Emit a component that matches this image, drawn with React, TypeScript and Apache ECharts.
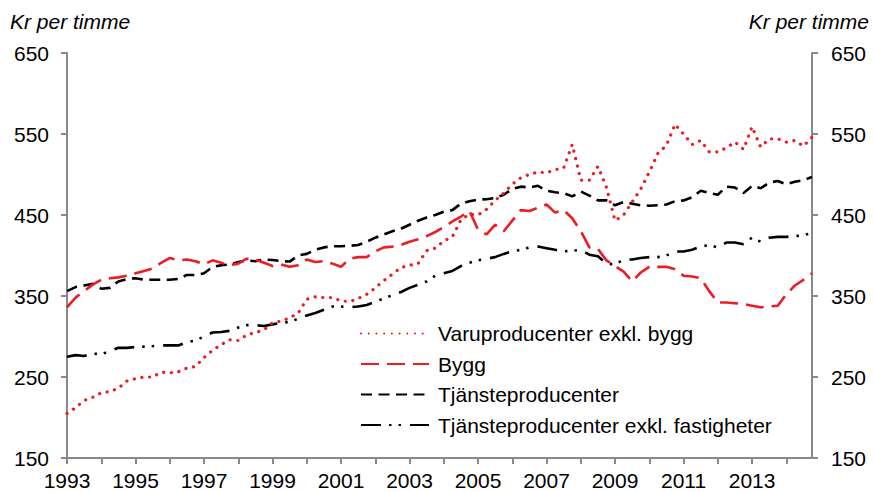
import React, { useEffect, useRef } from "react";
import * as echarts from "echarts";

const years = [1993, 1994, 1995, 1996, 1997, 1998, 1999, 2000, 2001, 2002, 2003, 2004, 2005, 2006, 2007, 2008, 2009, 2010, 2011, 2012, 2013, 2014];
const quarters = ["K1", "K2", "K3", "K4"];
const categories = years.flatMap((y) => quarters.map((q) => `${y}${q}`));

const yTickLabels = [150, 250, 350, 450, 550, 650];

const varuproducenter = [205, 212, 221, 225, 230.5, 232, 236, 245, 248, 250, 250, 256, 255, 256.5, 261, 263, 274, 283, 290, 296, 295, 302, 305, 308, 317, 319, 323, 329, 346, 349, 348, 348, 344, 343, 347, 352, 360, 369, 377, 385, 388, 390, 406, 409, 418, 423, 444, 451, 450, 457, 468, 477, 488, 496, 500, 503, 502, 506, 508, 537, 493, 493, 510, 484, 443, 450, 466, 482, 503, 526, 536, 562, 550, 537, 542, 528, 528, 533, 540, 531, 559, 534, 544, 544, 540, 542, 535, 546];
const bygg = [336, 348, 356, 364, 370, 372, 373, 375, 378, 381, 384, 391, 397, 394, 395, 393, 389, 394, 391, 388, 390, 396, 395, 391, 387, 389, 386, 388, 395, 392, 393, 390, 386, 396, 398, 398, 405, 410, 411, 413, 417, 420, 424, 429, 435, 442, 448, 455, 432, 426, 438, 430, 443, 456, 455, 459, 463, 453, 456, 446, 430, 410, 408, 394, 387, 380, 368, 379, 386, 386, 386, 383, 375, 374, 372, 356, 342, 342, 341, 340, 338, 336, 337, 338, 352, 363, 370, 378];
const tjansteproducenter = [356, 361, 363, 365, 359, 360, 368, 371, 372, 370, 370, 370, 370, 371, 376, 376, 378, 386, 388, 389, 392, 394, 393, 395, 394.5, 393, 392.5, 400, 402, 407, 410, 411.5, 411.5, 412, 413, 417, 422, 426, 430, 433, 438, 443, 447, 450, 454, 456, 464, 467, 469, 469.5, 471, 475, 482, 485, 484, 486, 480, 478, 477, 473, 479, 474, 468, 468, 462, 466, 464, 462, 461.5, 462, 463, 467, 468, 472, 480, 477, 475, 485, 484, 477, 486, 483, 490, 492, 488, 491, 493, 497];
const tjansteExklFastigheter = [275, 277, 276, 279, 278, 282, 286, 286, 287, 287.5, 288, 289, 289, 289, 293, 295, 300, 305, 305.5, 307, 311, 314, 314, 313, 315, 317, 318, 322, 326, 329, 333, 337, 337, 336, 337, 339, 343, 347, 351, 355, 360, 364, 368, 375, 378, 381, 387, 391, 394, 396, 398, 402, 405, 407, 410, 411, 409, 407, 405, 406, 407, 401, 399, 390, 389, 395, 395, 397, 398, 398, 400, 405, 405, 407, 411, 413, 410, 416, 416, 414, 422, 417, 422, 423, 423, 424, 425, 428];

const seriesNames = ["Varuproducenter exkl. bygg", "Bygg", "Tjänsteproducenter", "Tjänsteproducenter exkl. fastigheter"];

const FONT = "'Liberation Sans', Arial, Helvetica, sans-serif";
const RED = "#ec1c24";
const AXIS = "#898989";

export default function App() {
  const ref = useRef<HTMLDivElement>(null);
  useEffect(() => {
    document.body.style.margin = "0";
    if (!ref.current) return;
    const chart = echarts.init(ref.current, undefined, { renderer: "svg" });
    const yMin = yTickLabels[0];
    const yMax = yTickLabels[yTickLabels.length - 1];
    const span = yMax - yMin;
    const step = yTickLabels[1] - yTickLabels[0];
    const visibleAxis = (position: "left" | "right") => ({
      type: "value",
      position,
      min: 0,
      max: span,
      interval: step,
      axisLine: { show: true, lineStyle: { color: AXIS, width: 2 } },
      axisTick: { show: true, length: 6, lineStyle: { color: AXIS, width: 2 } },
      splitLine: { show: false },
      axisLabel: {
        color: "#000",
        fontSize: 21,
        fontFamily: FONT,
        margin: position === "left" ? 18 : 19,
        formatter: (v: number) => String(v + yMin),
      },
    });
    const option = {
      animation: false,
      textStyle: { fontFamily: FONT, color: "#000" },
      title: [
        {
          text: "Kr per timme",
          left: 5,
          top: 6,
          textStyle: { fontStyle: "italic", fontWeight: "normal", fontSize: 21, color: "#000", fontFamily: FONT },
        },
        {
          text: "Kr per timme",
          right: 0,
          top: 6,
          textStyle: { fontStyle: "italic", fontWeight: "normal", fontSize: 21, color: "#000", fontFamily: FONT },
        },
      ],
      grid: { left: 67, right: 62, top: 53, bottom: 34, containLabel: false },
      legend: {
        orient: "vertical",
        left: 355,
        top: 318,
        itemWidth: 68,
        itemHeight: 14,
        itemGap: 9.5,
        data: seriesNames,
        itemStyle: { opacity: 0 },
        textStyle: { fontSize: 21, color: "#000", fontFamily: FONT, padding: [0, 0, 0, 4], lineHeight: 21 },
      },
      xAxis: {
        type: "category",
        data: categories,
        boundaryGap: false,
        axisLine: { lineStyle: { color: AXIS, width: 2 } },
        axisTick: { interval: 3, length: 6, lineStyle: { color: AXIS, width: 2 } },
        axisLabel: {
          interval: 7,
          color: "#000",
          fontSize: 21,
          fontFamily: FONT,
          margin: 12,
          formatter: (v: string) => v.slice(0, 4),
        },
        splitLine: { show: false },
      },
      yAxis: [
        { type: "value", min: yMin, max: yMax, show: false },
        visibleAxis("left"),
        visibleAxis("right"),
      ],
      series: [
        {
          name: seriesNames[0],
          type: "line",
          data: varuproducenter,
          symbol: "none",
          yAxisIndex: 0,
          lineStyle: { color: RED, width: 3.2, type: [0.1, 7.6], cap: "round" },
          itemStyle: { color: RED },
          z: 4,
        },
        {
          name: seriesNames[1],
          type: "line",
          data: bygg,
          symbol: "none",
          yAxisIndex: 0,
          lineStyle: { color: RED, width: 2.6, type: [18, 8] },
          itemStyle: { color: RED },
          z: 3,
        },
        {
          name: seriesNames[2],
          type: "line",
          data: tjansteproducenter,
          symbol: "none",
          yAxisIndex: 0,
          lineStyle: { color: "#000", width: 2.6, type: [11, 6.5] },
          itemStyle: { color: "#000" },
          z: 2,
        },
        {
          name: seriesNames[3],
          type: "line",
          data: tjansteExklFastigheter,
          symbol: "none",
          yAxisIndex: 0,
          lineStyle: { color: "#000", width: 2.6, type: [20, 8, 2.5, 7, 2.5, 9] },
          itemStyle: { color: "#000" },
          z: 1,
        },
      ],
    };
    chart.setOption(option as any);
    return () => chart.dispose();
  }, []);
  return <div ref={ref} style={{ width: 874, height: 492 }} />;
}
